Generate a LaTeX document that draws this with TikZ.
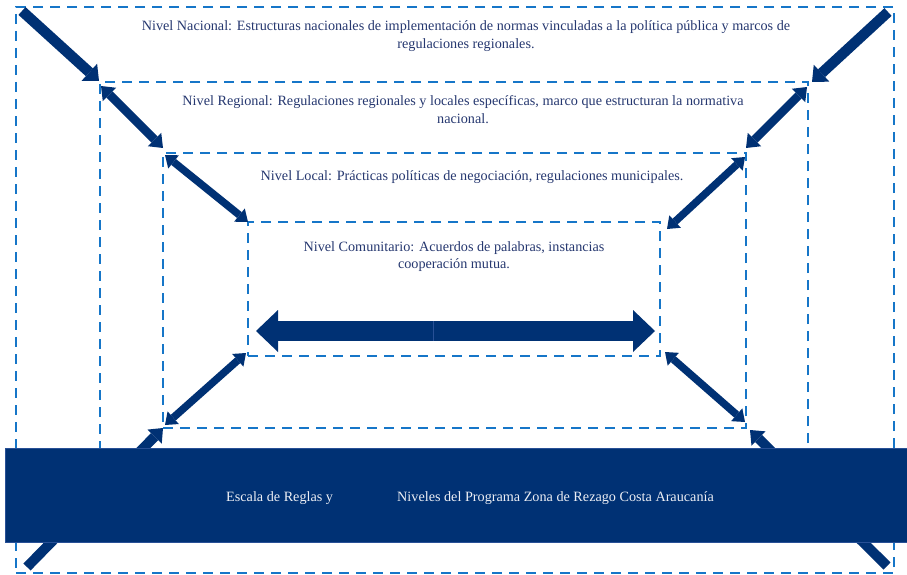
\documentclass[tikz,border=0pt]{standalone}
\usepackage{fontspec}
\setmainfont{Liberation Serif}
\usetikzlibrary{arrows.meta,calc}
\definecolor{navy}{RGB}{0,49,116}
\definecolor{dashblue}{RGB}{22,118,200}
\definecolor{txt}{RGB}{38,56,112}
\definecolor{bannertxt}{RGB}{236,238,244}
\definecolor{seamcol}{RGB}{40,80,150}
\begin{document}
\begin{tikzpicture}[x=1pt,y=-1pt,
  lvlbox/.style={draw=dashblue, line width=2.6pt, dash pattern=on 10pt off 7pt,
    rectangle, inner sep=0pt, outer sep=0pt, anchor=north west},
  lvltext/.style={text=txt, font=\fontsize{14.2}{17.7}\selectfont, align=center, inner sep=0pt, anchor=north},
  bantext/.style={text=bannertxt, font=\fontsize{14.2}{17}\selectfont, inner sep=0pt, anchor=base west},
  arrowbig/.style={draw=navy, line width=10.5pt, -{Triangle[width=23pt,length=13pt,line width=0pt]}},
  arrowlong/.style={draw=navy, line width=10pt, -{Triangle[width=20pt,length=12pt,line width=0pt]}},
  arrowmid/.style={draw=navy, line width=8.5pt, {Triangle[width=19pt,length=12pt,line width=0pt]}-{Triangle[width=19pt,length=12pt,line width=0pt]}},
  arrowsmall/.style={draw=navy, line width=7.5pt, {Triangle[width=17pt,length=11pt,line width=0pt]}-{Triangle[width=17pt,length=11pt,line width=0pt]}},
  arrowflat/.style={draw=navy, line width=20pt, -{Triangle[width=42pt,length=22pt,line width=0pt]}},
]
\useasboundingbox (0,0) rectangle (907,575);
\fill[white] (0,0) rectangle (907,575);

% level boxes
\node[lvlbox, minimum width=878pt, minimum height=566pt] (nac) at (16,7) {};
\node[lvlbox, minimum width=708pt, minimum height=418pt] (reg) at (100,82) {};
\node[lvlbox, minimum width=583pt, minimum height=275pt] (loc) at (163,153) {};
\node[lvlbox, minimum width=412pt, minimum height=134pt] (com) at (248,222) {};

% texts
\node[lvltext] (tnac) at (466,20.3) {Nivel Nacional: Estructuras nacionales de implementación de normas vinculadas a la política pública y marcos de\\regulaciones regionales.};
\node[lvltext] (treg) at (463,95.3) {Nivel Regional: Regulaciones regionales y locales específicas, marco que estructuran la normativa\\nacional.};
\node[lvltext] (tloc) at (472,170.8) {Nivel Local: Prácticas políticas de negociación, regulaciones municipales.};
\node[lvltext, font=\fontsize{14.2}{16.5}\selectfont] (tcom) at (454,241.8) {Nivel Comunitario: Acuerdos de palabras, instancias\\cooperación mutua.};

% arrow end points
\coordinate (a1t) at ($(nac.north west)+(6,4)$);
\coordinate (a1h) at ($(reg.north west)+(-1,-1)$);
\coordinate (a2a) at ($(reg.north west)+(1,4)$);
\coordinate (a2b) at ($(loc.north west)+(0,-5)$);
\coordinate (a3a) at ($(loc.north west)+(2,2)$);
\coordinate (a3b) at ($(com.north west)+(0,0)$);
\coordinate (a4t) at ($(nac.north east)+(-6,5)$);
\coordinate (a4h) at ($(reg.north east)+(4,0)$);
\coordinate (a5a) at ($(reg.north east)+(-1,5)$);
\coordinate (a5b) at ($(loc.north east)+(0,-5)$);
\coordinate (a6a) at ($(loc.north east)+(-1,4)$);
\coordinate (a6b) at ($(com.north east)+(7,7)$);
\coordinate (a7a) at ($(com.south west)+(-2,-3)$);
\coordinate (a7b) at ($(loc.south west)+(2,-3)$);
\coordinate (a8a) at ($(com.south east)+(5,-4)$);
\coordinate (a8b) at ($(loc.south east)+(-1,-6)$);
\coordinate (a9t) at ($(nac.south west)+(11,-6)$);
\coordinate (a9h) at ($(loc.south west)+(0,0)$);
\coordinate (a10t) at ($(nac.south east)+(-7,-7)$);
\coordinate (a10h) at ($(loc.south east)+(4,2)$);
\coordinate (hmid) at ($(com.south west)+(185,-25)$);
\coordinate (hl) at ($(com.south west)+(8,-25)$);
\coordinate (hr) at ($(com.south east)+(-5,-25)$);

% diagonal arrows
\draw[arrowbig] (a1t) -- (a1h);
\draw[arrowmid] (a2a) -- (a2b);
\draw[arrowsmall] (a3a) -- (a3b);
\draw[arrowbig] (a4t) -- (a4h);
\draw[arrowmid] (a5a) -- (a5b);
\draw[arrowsmall] (a6a) -- (a6b);
\draw[arrowsmall] (a7a) -- (a7b);
\draw[arrowsmall] (a8a) -- (a8b);
\draw[arrowlong] (a9t) -- (a9h);
\draw[arrowlong] (a10t) -- (a10h);

% horizontal double arrow
\draw[arrowflat] (hmid) -- (hl);
\draw[arrowflat] (hmid) -- (hr);
\draw[seamcol, line width=0.8pt] ($(hmid)+(0,-10)$) -- ($(hmid)+(0,10)$);

% banner
\node[fill=navy, draw=seamcol, line width=0.6pt, inner sep=0pt, anchor=north west,
  minimum width=902pt, minimum height=94pt] (banner) at (5,448) {};
\node[bantext] (b1) at (226,501) {Escala de Reglas y};
\node[bantext] (b2) at (397,501) {Niveles del Programa Zona de Rezago Costa Araucanía};
\end{tikzpicture}
\end{document}
